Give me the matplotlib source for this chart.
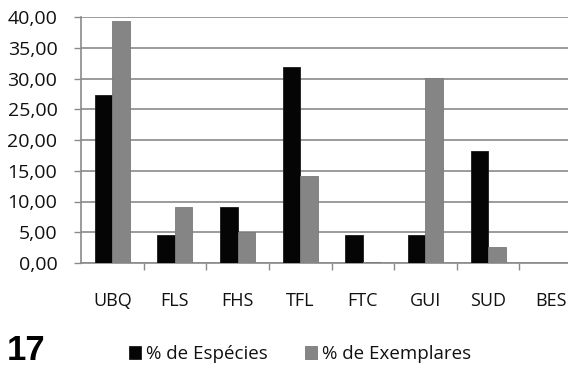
import matplotlib
matplotlib.use("Agg")
import matplotlib.pyplot as plt
import numpy as np

categories = ["UBQ", "FLS", "FHS", "TFL", "FTC", "GUI", "SUD", "BES"]
especies = [27.27, 4.55, 9.09, 31.82, 4.55, 4.55, 18.18, 0.0]
exemplares = [39.35, 9.10, 5.00, 14.10, 0.20, 30.10, 2.65, 0.0]
yticks = [0, 5, 10, 15, 20, 25, 30, 35, 40]
series_names = ["% de Espécies", "% de Exemplares"]
figure_number = "17"

plt.rcParams["font.family"] = ["Open Sans", "DejaVu Sans"]

W, H = 568, 369
fig = plt.figure(figsize=(W / 100, H / 100), dpi=100)
# axes extend past the right edge, the last category is cut off
left_px, right_px, top_px, bottom_px = 81, 582, 17, 263
ax = fig.add_axes([left_px / W, 1 - bottom_px / H,
                   (right_px - left_px) / W, (bottom_px - top_px) / H])

x = np.arange(len(categories))
bw = 0.28
grid_c = "#8a8a8a"
b1 = ax.bar(x - bw / 2, especies, bw, color="#050505", edgecolor="#1a1a1a",
            linewidth=0.6, zorder=3, label=series_names[0])
b2 = ax.bar(x + bw / 2, exemplares, bw, color="#858585", edgecolor="#7a7a7a",
            linewidth=0.6, zorder=3, label=series_names[1])

ax.set_xlim(-0.5, len(categories) - 0.5)
ax.set_ylim(0, 40)
ax.set_yticks(yticks)
ax.set_yticklabels([f"{v:.2f}".replace(".", ",") for v in yticks])
ax.yaxis.grid(True, color=grid_c, linewidth=1.2, zorder=0)
ax.tick_params(axis="y", length=5, width=1.0, color=grid_c, pad=12,
               labelsize=14, labelcolor="#111111")

ax.set_xticks(x)
ax.set_xticklabels(categories)
ax.set_xticks(np.arange(len(categories)) + 0.5, minor=True)
ax.tick_params(axis="x", which="major", length=0, pad=21, labelsize=13,
               labelcolor="#111111")
ax.tick_params(axis="x", which="minor", length=5, width=1.0, color=grid_c)

for s in ["top", "right"]:
    ax.spines[s].set_visible(False)
for s in ["left", "bottom"]:
    ax.spines[s].set_color(grid_c)
    ax.spines[s].set_linewidth(1.2)
ax.set_axisbelow(True)

fig.text(7 / W, 1 - 360 / H, figure_number, fontsize=25, fontweight="bold",
         family="Liberation Sans", va="baseline", ha="left")

fig.legend(handles=[b1, b2], loc="center left",
           bbox_to_anchor=(129 / W, 1 - 354 / H), ncol=2, frameon=False,
           fontsize=13.5, handlelength=0.65, handleheight=0.65,
           handletextpad=0.25, columnspacing=2.0, borderaxespad=0,
           borderpad=0, labelcolor="#111111")

fig.savefig("out.png", dpi=100)
